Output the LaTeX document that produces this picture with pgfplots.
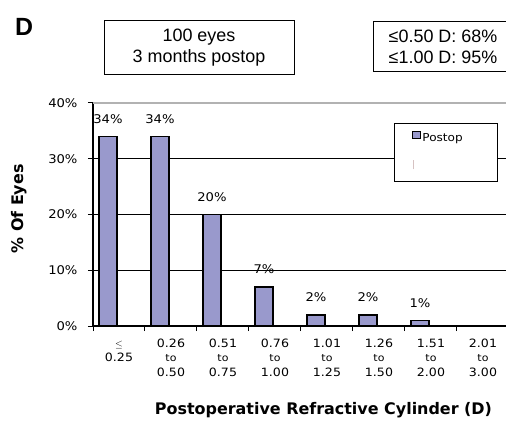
\documentclass[border=0pt]{standalone}
\usepackage{fontspec}
\setmainfont{Liberation Sans}
\newfontfamily\tahoma[FakeStretch=1.1]{DejaVu Sans}
\newfontfamily\verd{DejaVu Sans}
\usepackage{pgfplots}
\pgfplotsset{compat=1.18}
\definecolor{barc}{RGB}{153,153,204}
\newcommand{\sm}[1]{{\fontsize{10}{10}\selectfont #1}}
\begin{document}
\begin{tikzpicture}[x=1bp,y=1bp]
\begin{axis}[
  at={(93bp,97bp)}, anchor=south west,
  scale only axis, width=416bp, height=223bp,
  xmin=-0.5, xmax=7.5, ymin=0, ymax=40,
  axis x line*=bottom, axis y line*=left,
  axis line style={line width=1.3bp, black},
  tick align=outside,
  major tick length=5bp,
  tick style={line width=1bp, black},
  ytick={0,10,20,30,40},
  yticklabel={\pgfmathprintnumber{\tick}\%},
  /pgf/number format/assume math mode=true,
  yticklabel style={font=\tahoma\fontsize{12}{14}\selectfont, xshift=-7bp},
  ymajorgrids,
  major grid style={line width=0.9bp, black},
  xtick={-0.5,0.5,...,7.5},
  xticklabels={},
  extra x ticks={0,...,7},
  extra x tick labels={
    {\rule{0pt}{9bp}\sm{$\le$}\\0.25},
    {\rule{0pt}{9bp}0.26\\\sm{to}\\0.50},
    {\rule{0pt}{9bp}0.51\\\sm{to}\\0.75},
    {\rule{0pt}{9bp}0.76\\\sm{to}\\1.00},
    {\rule{0pt}{9bp}1.01\\\sm{to}\\1.25},
    {\rule{0pt}{9bp}1.26\\\sm{to}\\1.50},
    {\rule{0pt}{9bp}1.51\\\sm{to}\\2.00},
    {\rule{0pt}{9bp}2.01\\\sm{to}\\3.00}},
  extra x tick style={major tick length=0pt, grid=none,
    xticklabel style={align=center, anchor=north, yshift=-9bp,
      font=\tahoma\fontsize{11.5}{14.5}\selectfont}},
  xlabel={Postoperative Refractive Cylinder (D)},
  xlabel style={at={(axis description cs:0.554,-0.377)}, anchor=center,
    font=\verd\bfseries\fontsize{16}{18}\selectfont},
  ylabel={\% Of Eyes},
  ylabel style={at={(axis description cs:-0.178,0.525)}, anchor=center,
    font=\verd\bfseries\fontsize{16}{18}\selectfont},
  legend style={at={(0.974,0.910)}, anchor=north east, draw=black,
    line width=0.9bp, fill=white, inner xsep=17.5bp, inner ysep=7bp,
    font=\tahoma\fontsize{11}{13}\selectfont, row sep=15bp,
    nodes={inner sep=1.5bp}},
  legend cell align=left,
]
\addplot[ybar, bar width=0.35, bar shift=-0.21, fill=barc, draw=black,
  line width=1.5bp,
  nodes near coords={\pgfmathprintnumber{\pgfplotspointmeta}\%},
  nodes near coords style={font=\tahoma\fontsize{12}{14}\selectfont,
    anchor=base, inner sep=0pt, yshift=13bp, xshift=-11bp},
  legend image code/.code={\draw[fill=barc, draw=black, line width=1.3bp]
    (0bp,0bp) rectangle (7.5bp,7.5bp);}]
  coordinates {(0,34) (1,34) (2,20) (3,7) (4,2) (5,2) (6,1)};
\addlegendentry{Postop\rule{16bp}{0pt}}
\addlegendimage{legend image code/.code={\draw[red!20!gray!40, line width=0.8bp]
    (0.5bp,-1bp) -- (0.5bp,8bp);}}
\addlegendentry{\phantom{Postop}}
\draw[gray!60, line width=1.3bp] (rel axis cs:0,1) -- (rel axis cs:1,1);
\end{axis}
\node[font=\bfseries\fontsize{25}{25}\selectfont] at (24bp,396bp) {D};
\node[draw, line width=1bp, minimum width=190bp, minimum height=54bp,
  align=center, inner sep=0pt, font=\fontsize{18}{21}\selectfont]
  at (199bp,375bp) {100 eyes\\3 months postop};
\node[draw, line width=1bp, minimum width=140bp, minimum height=50bp,
  align=left, inner sep=0pt, font=\fontsize{18}{21}\selectfont]
  at (443bp,376bp) {≤0.50 D: 68\%\\≤1.00 D: 95\%};
\pgfresetboundingbox
\useasboundingbox (0,0) rectangle (506bp,423bp);
\end{tikzpicture}
\end{document}
